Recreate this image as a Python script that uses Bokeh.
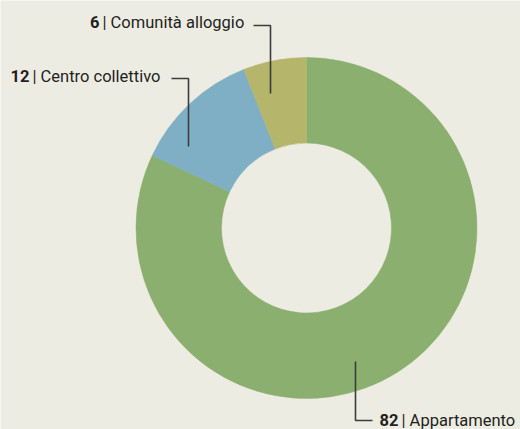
import math
from bokeh.plotting import figure
from bokeh.models import Range1d, ColumnDataSource
from bokeh.core.properties import value
from bokeh.embed import file_html
from bokeh.resources import INLINE

# ---- data ----
categories = ["Appartamento", "Centro collettivo", "Comunità alloggio"]
values = [82, 12, 6]
colors = ["#8aaf6e", "#7fafc5", "#b5b56c"]

BG = "#edece3"
FONT = "Roboto"
FS = "16.5px"
TXT = "#231f20"
LINE = "#3c3c3c"

W, H = 520, 429

def Y(y):
    return H - y

# ---- layout ----
p = figure(width=W, height=H, output_backend="svg", toolbar_location=None,
           x_range=Range1d(0, W), y_range=Range1d(0, H),
           min_border=0, background_fill_color=BG, border_fill_color=BG,
           outline_line_color=None)
p.axis.visible = False
p.grid.visible = False

cx, cy = 306, Y(227.5)
r_out, r_in = 170.5, 85

total = sum(values)
starts, ends = [], []
acc = 0
for v in values:
    starts.append(math.pi / 2 - 2 * math.pi * acc / total)
    acc += v
    ends.append(math.pi / 2 - 2 * math.pi * acc / total)

src = ColumnDataSource(dict(cat=categories, val=values, color=colors,
                            start=starts, end=ends))
p.annular_wedge(x=cx, y=cy, inner_radius=r_in, outer_radius=r_out,
                start_angle="start", end_angle="end", direction="clock",
                fill_color="color", line_color="color", line_width=0.5,
                source=src)

# leader lines (screen positions of callouts), order follows categories
leaders = [
    ([355, 355, 372], [361, 420, 420]),
    ([171, 188, 188], [78, 78, 146]),
    ([253, 270, 270], [25, 25, 93]),
]
for xs, ys in leaders:
    p.line(xs, [Y(v) for v in ys], line_color=LINE, line_width=1.6)

# label anchors: x of "|" separator, vertical middle of text
bar_x = [403, 34, 104]
mid_y = [419.5, 75.5, 21.5]

num_txt = [str(v) for v in values]
lab_txt = ["| " + c for c in categories]

p.text(x=[b - 5 for b in bar_x], y=[Y(v) for v in mid_y], text=num_txt,
       text_font=value(FONT), text_font_style="bold", text_font_size=FS,
       text_color=TXT, text_align="right", text_baseline="middle")
p.text(x=[b - 2 for b in bar_x], y=[Y(v) for v in mid_y], text=lab_txt,
       text_font=value(FONT), text_font_size=FS,
       text_color=TXT, text_align="left", text_baseline="middle")

open("out.html", "w").write(file_html(p, INLINE))
